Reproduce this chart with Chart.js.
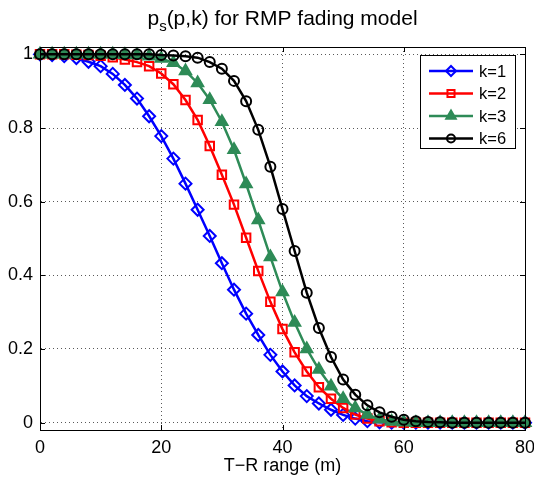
<!DOCTYPE html>
<html>
<head>
<meta charset="utf-8">
<script src="https://cdn.jsdelivr.net/npm/chart.js@4.4.0/dist/chart.umd.min.js"></script>
<style>
html, body { margin: 0; padding: 0; background: #fff; }
#wrap { width: 534px; height: 481px; }
</style>
</head>
<body>
<div id="wrap"><canvas id="fadingChart" width="534" height="481"></canvas></div>
<script>
// T-R range (m), one point every 2 m
var ranges = [0, 2, 4, 6, 8, 10, 12, 14, 16, 18, 20, 22, 24, 26, 28, 30, 32, 34, 36, 38, 40,
              42, 44, 46, 48, 50, 52, 54, 56, 58, 60, 62, 64, 66, 68, 70, 72, 74, 76, 78, 80];

var psK1 = [1.000, 0.998, 0.995, 0.990, 0.980, 0.968, 0.947, 0.917, 0.880, 0.832, 0.778, 0.717, 0.649, 0.578,
            0.507, 0.433, 0.361, 0.296, 0.238, 0.184, 0.139, 0.101, 0.072, 0.052, 0.035, 0.021, 0.011, 0.004,
            0.001, 0, 0, 0, 0, 0, 0, 0, 0, 0, 0, 0, 0];
var psK2 = [1.000, 1.000, 1.000, 0.999, 0.998, 0.996, 0.992, 0.986, 0.979, 0.968, 0.948, 0.919, 0.876, 0.822,
            0.751, 0.673, 0.592, 0.502, 0.412, 0.328, 0.254, 0.191, 0.139, 0.096, 0.065, 0.040, 0.022, 0.011,
            0.004, 0.001, 0, 0, 0, 0, 0, 0, 0, 0, 0, 0, 0];
var psK3 = [1.000, 1.000, 1.000, 1.000, 1.000, 1.000, 1.000, 0.999, 0.998, 0.995, 0.989, 0.977, 0.955, 0.922,
            0.877, 0.817, 0.741, 0.648, 0.550, 0.450, 0.355, 0.272, 0.200, 0.144, 0.099, 0.065, 0.040, 0.022,
            0.009, 0.003, 0.001, 0, 0, 0, 0, 0, 0, 0, 0, 0, 0];
var psK6 = [1.000, 1.000, 1.000, 1.000, 1.000, 1.000, 1.000, 1.000, 1.000, 1.000, 0.998, 0.997, 0.995, 0.991,
            0.979, 0.961, 0.928, 0.873, 0.795, 0.695, 0.580, 0.466, 0.353, 0.257, 0.178, 0.117, 0.076, 0.047,
            0.028, 0.016, 0.008, 0.004, 0.002, 0.001, 0, 0, 0, 0, 0, 0, 0];

var seriesLabels = ['k=1', 'k=2', 'k=3', 'k=6'];
var xTicks = [0, 20, 40, 60, 80];
var yTicks = [0, 0.2, 0.4, 0.6, 0.8, 1];

var FONT = '"Liberation Sans", Arial, Helvetica, sans-serif';

function toPoints(vals) {
    return ranges.map(function (r, i) { return {x: r, y: vals[i]}; });
}

var styles = [
    {color: '#0000ff', pointStyle: 'rectRot', radius: 6, fill: 'rgba(0,0,0,0)'},
    {color: '#ff0000', pointStyle: 'rect', radius: 6, fill: 'rgba(0,0,0,0)'},
    {color: '#2e8b57', pointStyle: 'triangle', radius: 6.5, fill: '#2e8b57'},
    {color: '#000000', pointStyle: 'circle', radius: 5, fill: 'rgba(0,0,0,0)'}
];
var allSeries = [psK1, psK2, psK3, psK6];

var datasets = allSeries.map(function (vals, i) {
    return {
        label: seriesLabels[i],
        data: toPoints(vals),
        borderColor: styles[i].color,
        borderWidth: 2.5,
        pointStyle: styles[i].pointStyle,
        pointRadius: styles[i].radius,
        pointBorderWidth: 2,
        pointBorderColor: styles[i].color,
        pointBackgroundColor: styles[i].fill,
        tension: 0,
        clip: false,
        order: 4 - i   // later series drawn on top, like matlab
    };
});

// box, inward ticks, title with subscript, boxed legend
var matlabLook = {
    id: 'matlabLook',
    afterDraw: function (chart) {
        var ctx = chart.ctx;
        var a = chart.chartArea;
        var xs = chart.scales.x, ys = chart.scales.y;
        ctx.save();
        ctx.strokeStyle = '#000';
        ctx.lineWidth = 1;
        ctx.setLineDash([]);
        ctx.strokeRect(Math.round(a.left) + 0.5, Math.round(a.top) + 0.5,
                       Math.round(a.right - a.left), Math.round(a.bottom - a.top));
        ctx.beginPath();
        xTicks.forEach(function (v) {
            var px = Math.round(xs.getPixelForValue(v)) + 0.5;
            ctx.moveTo(px, a.bottom); ctx.lineTo(px, a.bottom - 5);
            ctx.moveTo(px, a.top); ctx.lineTo(px, a.top + 5);
        });
        yTicks.forEach(function (v) {
            var py = Math.round(ys.getPixelForValue(v)) + 0.5;
            ctx.moveTo(a.left, py); ctx.lineTo(a.left + 5, py);
            ctx.moveTo(a.right, py); ctx.lineTo(a.right - 5, py);
        });
        ctx.stroke();

        // title: p_s(p,k) for RMP fading model
        var cx = (a.left + a.right) / 2;
        var base = 25;
        ctx.fillStyle = '#000';
        ctx.textBaseline = 'alphabetic';
        ctx.textAlign = 'left';
        ctx.font = '21px ' + FONT;
        var w1 = ctx.measureText('p').width;
        var w3 = ctx.measureText('(p,k) for RMP fading model').width;
        ctx.font = '15px ' + FONT;
        var w2 = ctx.measureText('s').width;
        var x0 = cx - (w1 + w2 + w3) / 2;
        ctx.font = '21px ' + FONT;
        ctx.fillText('p', x0, base);
        ctx.font = '15px ' + FONT;
        ctx.fillText('s', x0 + w1, base + 6);
        ctx.font = '21px ' + FONT;
        ctx.fillText('(p,k) for RMP fading model', x0 + w1 + w2, base);

        // legend
        var lx = 420, ly = 55, lw = 95, lh = 93;
        ctx.fillStyle = '#fff';
        ctx.fillRect(lx, ly, lw, lh);
        ctx.strokeStyle = '#000';
        ctx.lineWidth = 1;
        ctx.strokeRect(lx + 0.5, ly + 0.5, lw, lh);
        ctx.font = '16.5px ' + FONT;
        ctx.textBaseline = 'middle';
        seriesLabels.forEach(function (lab, i) {
            var y = ly + 16 + i * 22.5;
            var st = styles[i];
            ctx.strokeStyle = st.color;
            ctx.lineWidth = 2.5;
            ctx.beginPath();
            ctx.moveTo(lx + 9, y); ctx.lineTo(lx + 53, y);
            ctx.stroke();
            ctx.lineWidth = 2;
            ctx.fillStyle = st.fill;
            Chart.helpers.drawPoint(ctx, {pointStyle: st.pointStyle, radius: st.radius - 1, rotation: 0, borderWidth: 2}, lx + 31, y);
            ctx.fillStyle = '#000';
            ctx.fillText(lab, lx + 59, y + 1);
        });
        ctx.restore();
    }
};

var gridLook = {color: 'rgba(0,0,0,0.65)', lineWidth: 1, drawTicks: false};
var borderLook = {display: true, color: '#000', width: 1, dash: [1, 3]};

var fadingChart = new Chart(document.getElementById('fadingChart').getContext('2d'), {
    type: 'line',
    data: {datasets: datasets},
    options: {
        responsive: false,
        animation: false,
        devicePixelRatio: 1,
        layout: {padding: {top: 47, right: 9, left: 0, bottom: 0}},
        plugins: {
            legend: {display: false},
            title: {display: false},
            tooltip: {enabled: false}
        },
        scales: {
            x: {
                type: 'linear',
                min: 0,
                max: 80,
                afterBuildTicks: function (s) { s.ticks = xTicks.map(function (v) { return {value: v}; }); },
                afterFit: function (s) { s.height = 51; s.paddingRight = 0; s.paddingLeft = 0; },
                grid: gridLook,
                border: borderLook,
                ticks: {color: '#000', padding: 7, maxRotation: 0, font: {family: FONT, size: 18}},
                title: {display: true, text: 'T\u2212R range (m)', color: '#000', padding: {top: 0, bottom: 4},
                        font: {family: FONT, size: 18}}
            },
            y: {
                type: 'linear',
                min: -0.02,
                max: 1.02,
                afterBuildTicks: function (s) { s.ticks = yTicks.map(function (v) { return {value: v}; }); },
                afterFit: function (s) { s.width = 40; },
                grid: gridLook,
                border: borderLook,
                ticks: {color: '#000', padding: 7, font: {family: FONT, size: 18},
                        callback: function (v) { return String(v); }}
            }
        }
    },
    plugins: [matlabLook]
});
</script>
</body>
</html>
